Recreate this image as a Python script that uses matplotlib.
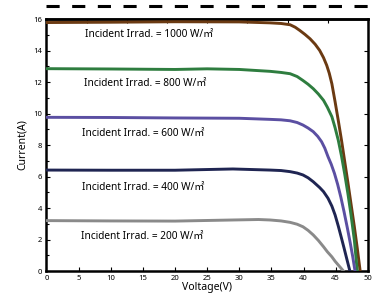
import numpy as np
import matplotlib
matplotlib.use("Agg")
import matplotlib.pyplot as plt

plt.rcParams['font.family'] = ['Noto Sans', 'Noto Sans CJK JP', 'DejaVu Sans']

# readings (voltage in V, current in A)
v_1000 = [0, 10, 20, 30, 34.8, 36.5, 37.9, 38.7, 39.4, 40.2, 41.0, 41.8, 42.5, 43.1, 43.6, 44.0,
          44.4, 44.9, 45.4, 45.9, 46.4, 46.9, 47.4, 47.9, 48.35, 48.8]
i_1000 = [15.78, 15.80, 15.83, 15.82, 15.76, 15.72, 15.64, 15.48, 15.28, 15.03, 14.75, 14.40, 14.01,
          13.55, 13.06, 12.55, 11.89, 10.75, 9.55, 8.30, 6.95, 5.60, 4.20, 2.80, 1.45, 0]

v_800 = [0, 10, 20, 25, 30, 34.8, 36.5, 37.9, 39.0, 39.9, 40.7, 41.5, 42.3, 43.1, 43.7, 44.4,
         44.9, 45.4, 45.9, 46.4, 46.9, 47.4, 47.9, 48.35]
i_800 = [12.85, 12.83, 12.80, 12.84, 12.80, 12.68, 12.61, 12.53, 12.35, 12.10, 11.86, 11.58, 11.24,
         10.84, 10.40, 9.80, 9.10, 8.30, 7.30, 6.15, 4.90, 3.50, 1.95, 0]

v_600 = [0, 10, 20, 30, 34.8, 36.5, 37.9, 39.0, 39.9, 40.7, 41.5, 42.2, 42.8, 43.3, 43.8, 44.3,
         44.8, 45.3, 45.8, 46.3, 46.8, 47.25, 47.65, 48.0]
i_600 = [9.76, 9.75, 9.72, 9.70, 9.63, 9.60, 9.54, 9.43, 9.27, 9.08, 8.85, 8.55, 8.21, 7.80, 7.26,
         6.78, 6.20, 5.50, 4.68, 3.75, 2.75, 1.80, 0.90, 0]

v_400 = [0, 10, 20, 29, 34.8, 36.5, 37.9, 39.0, 39.9, 40.7, 41.5, 42.5, 43.1, 43.8, 44.4, 44.9,
         45.4, 45.9, 46.3, 46.7, 47.2]
i_400 = [6.41, 6.40, 6.40, 6.48, 6.41, 6.38, 6.31, 6.22, 6.10, 5.92, 5.67, 5.30, 5.04, 4.62, 4.12,
         3.56, 2.85, 2.08, 1.45, 0.80, 0]

v_200 = [0, 10, 20, 29, 33.0, 34.8, 36.5, 37.9, 39.0, 39.9, 40.7, 41.5, 42.3, 43.1, 43.7, 44.4,
         44.9, 45.4, 46.2]
i_200 = [3.20, 3.18, 3.17, 3.24, 3.27, 3.24, 3.18, 3.09, 2.97, 2.81, 2.58, 2.29, 1.94, 1.54, 1.22,
         0.90, 0.62, 0.38, 0]

irrad = [1000, 800, 600, 400, 200]
colors = ["#6b3a12", "#2e7d3f", "#5b4fa2", "#1f2552", "#8a8a8a"]
label_pos = [(6.0, 15.0), (5.8, 11.9), (5.6, 8.76), (5.6, 5.33), (5.4, 2.22)]

curves = [(v_1000, i_1000), (v_800, i_800), (v_600, i_600), (v_400, i_400), (v_200, i_200)]

fig = plt.figure(figsize=(3.84, 2.98), dpi=100)
ax = fig.add_axes([0.121, 0.0906, 0.837, 0.8454])

for (v, i), c in zip(curves, colors):
    ax.plot(v, i, color=c, lw=2.1, solid_joinstyle="round", zorder=3)

for g, (x, y) in zip(irrad, label_pos):
    ax.text(x, y, f"Incident Irrad. = {g} W/㎡", fontsize=7.3, va="center", ha="left")

ax.set_xlim(0, 50)
ax.set_ylim(0, 16)
ax.set_xticks(np.arange(0, 51, 5))
ax.set_yticks(np.arange(0, 17, 2))
ax.set_yticks(np.arange(1, 16, 2), minor=True)
ax.tick_params(direction="in", length=3, width=0.8, labelsize=5.5, pad=3)
ax.tick_params(which="minor", direction="in", length=2, width=0.8, right=False)
ax.tick_params(axis="y", right=True)
for s in ax.spines.values():
    s.set_linewidth(1.8)

sec = ax.secondary_xaxis("top")
sec.set_xticks(np.linspace(0, 50, 9))
sec.tick_params(direction="in", length=3, width=0.8, labeltop=False)
sec.spines["top"].set_linewidth(1.8)

ax.set_xlabel("Voltage(V)", fontsize=7.5, labelpad=0)
ax.set_ylabel("Current(A)", fontsize=7.5, labelpad=4)

# dashed rule above the plot
ax.plot([0, 1], [1.052, 1.052], transform=ax.transAxes, clip_on=False,
        color="black", lw=2.2, dashes=(4.3, 4.1))

fig.savefig("out.png", dpi=100)
